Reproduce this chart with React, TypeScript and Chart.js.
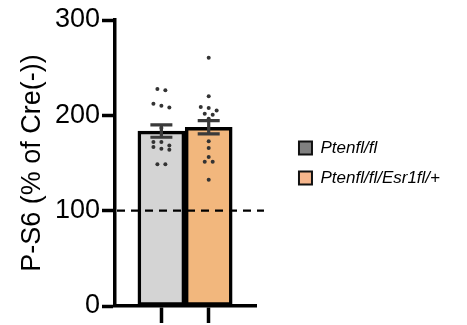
import React, { useEffect, useRef } from "react";
import { Chart, registerables } from "chart.js";

Chart.register(...registerables);

// ---- data ----
const categories = ["Ptenfl/fl", "Ptenfl/fl/Esr1fl/+"];
const categoryPositions = [1, 2];
const means = [183.5, 187.5];
const sems = [6.5, 7];
const group1Points = [227.6, 226.2, 212.2, 210, 208.3, 186.7, 172, 172, 168.4, 166.7, 165, 163.9, 148.8, 148.8];
const group2Points = [260.5, 220, 208.7, 207.7, 205.1, 201.7, 200.6, 196.4, 172.8, 165.7, 156.3, 151.3, 151.3, 132.4];
const yTickValues = [0, 100, 200, 300];
const referenceLevel = 100;

// ---- styles ----
const FONT = "'Liberation Sans', Arial, Helvetica, sans-serif";
const barFills = ["#d4d4d4", "#f2b77d"];
const legendFills = ["#808080", "#f6b68c"];
const dotColor = "#333333";
const errColor = "#3a3a3a";

function swarm(values: number[], center: number, spacing: number, tol: number) {
  const sorted = [...values].sort((a, b) => b - a);
  const rows: number[][] = [];
  sorted.forEach((v) => {
    const last = rows[rows.length - 1];
    if (last && last[0] - v <= tol) last.push(v);
    else rows.push([v]);
  });
  const out: { x: number; y: number }[] = [];
  rows.forEach((row) =>
    row.forEach((v, k) => out.push({ x: center + (k - (row.length - 1) / 2) * spacing, y: v }))
  );
  return out;
}

const overlayPlugin = {
  id: "overlay",
  afterDatasetsDraw(chart: any) {
    const { ctx, chartArea, scales } = chart;
    const xs = scales.x;
    const ys = scales.y;
    ctx.save();
    // reference dashed line
    const yRef = ys.getPixelForValue(referenceLevel);
    ctx.strokeStyle = "#000";
    ctx.lineWidth = 2.2;
    ctx.setLineDash([8, 6]);
    ctx.beginPath();
    ctx.moveTo(chartArea.left + 2, yRef);
    ctx.lineTo(chartArea.right + 7, yRef);
    ctx.stroke();
    ctx.setLineDash([]);
    // error bars (mean ± SEM)
    ctx.strokeStyle = errColor;
    ctx.lineWidth = 3.2;
    categoryPositions.forEach((c, i) => {
      const x = xs.getPixelForValue(c);
      const yt = ys.getPixelForValue(means[i] + sems[i]);
      const yb = ys.getPixelForValue(means[i] - sems[i]);
      ctx.beginPath();
      ctx.moveTo(x, yt);
      ctx.lineTo(x, yb);
      ctx.moveTo(x - 11, yt);
      ctx.lineTo(x + 11, yt);
      ctx.moveTo(x - 11, yb);
      ctx.lineTo(x + 11, yb);
      ctx.stroke();
    });
    ctx.restore();
  },
};

export default function App() {
  const ref = useRef<HTMLCanvasElement>(null);
  useEffect(() => {
    if (!ref.current) return;
    const spacing = 0.168;
    const dots = [
      ...swarm(group1Points, categoryPositions[0], spacing, 4.5),
      ...swarm(group2Points, categoryPositions[1], spacing, 4.5),
    ];
    const chart = new Chart(ref.current, {
      type: "bar",
      data: {
        datasets: [
          {
            type: "scatter",
            data: dots,
            backgroundColor: dotColor,
            borderColor: dotColor,
            pointRadius: 2,
            borderWidth: 0,
            order: 1,
          } as any,
          {
            type: "bar",
            data: categoryPositions.map((c, i) => ({ x: c, y: means[i] })),
            backgroundColor: barFills,
            borderColor: "#000",
            borderWidth: 3.5,
            borderSkipped: false,
            barThickness: 47,
            order: 2,
          } as any,
        ],
      },
      options: {
        responsive: false,
        animation: false,
        events: [],
        layout: { padding: { top: 20, left: 10, bottom: 2, right: 17 } },
        plugins: {
          tooltip: { enabled: false },
          legend: {
            position: "right",
            align: "center",
            fullSize: false,
            maxWidth: 220,
            labels: {
              boxWidth: 13,
              boxHeight: 13,
              padding: 13,
              color: "#000",
              font: { family: FONT, size: 17, style: "italic" },
              generateLabels: () =>
                categories.map((t, i) => ({
                  text: t,
                  fillStyle: legendFills[i],
                  strokeStyle: "#111",
                  lineWidth: 2,
                  fontColor: "#000",
                  hidden: false,
                  datasetIndex: 1,
                  index: i,
                })),
            },
          },
        },
        scales: {
          x: {
            type: "linear",
            min: 0.02,
            max: 3.02,
            offset: false,
            afterBuildTicks: (s: any) => {
              s.ticks = categoryPositions.map((v) => ({ value: v }));
            },
            ticks: { display: false },
            grid: {
              offset: false,
              drawOnChartArea: false,
              drawTicks: true,
              tickLength: 17,
              tickWidth: 3.5,
              tickColor: "#000",
              color: "#000",
            },
            border: { display: true, color: "#000", width: 3.5 },
          },
          y: {
            type: "linear",
            min: 0,
            max: 300,
            afterBuildTicks: (s: any) => {
              s.ticks = yTickValues.map((v) => ({ value: v }));
            },
            afterFit: (s: any) => {
              s.width = 105;
            },
            ticks: {
              color: "#000",
              padding: 2,
              font: { family: FONT, size: 27 },
            },
            grid: {
              drawOnChartArea: false,
              drawTicks: true,
              tickLength: 13,
              tickWidth: 3.5,
              tickColor: "#000",
              color: "#000",
            },
            border: { display: true, color: "#000", width: 3.5 },
            title: {
              display: true,
              text: "P-S6 (% of Cre(-))",
              color: "#000",
              font: { family: FONT, size: 27, lineHeight: 1 },
              padding: { top: 9, bottom: 9 },
            },
          },
          yR: {
            type: "linear",
            position: "right",
            display: true,
            grid: { display: false, drawTicks: false },
            border: { display: false },
            ticks: { display: false },
            afterFit: (s: any) => {
              s.width = 29;
            },
          },
        },
      },
      plugins: [overlayPlugin],
    } as any);
    return () => chart.destroy();
  }, []);
  return (
    <div style={{ position: "fixed", left: 0, top: 0, width: 467, height: 325, background: "#fff" }}>
      <canvas ref={ref} width={467} height={325} />
    </div>
  );
}
